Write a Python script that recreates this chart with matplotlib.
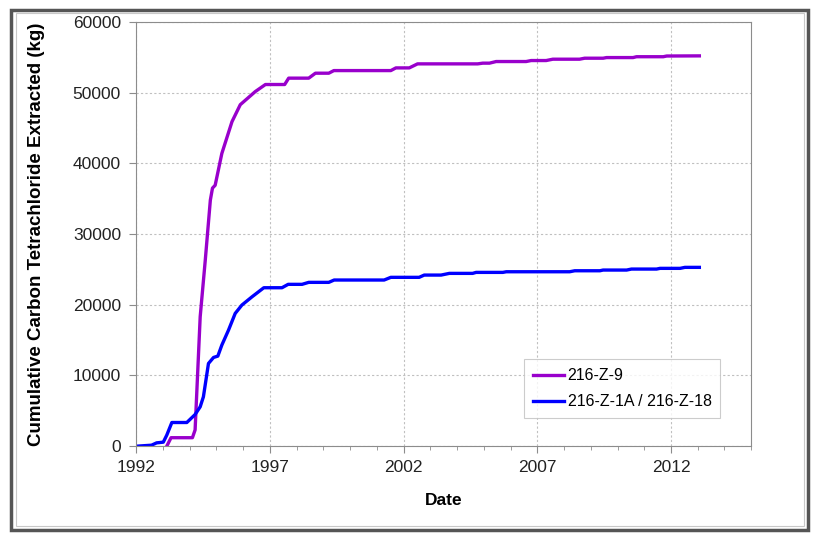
import matplotlib
matplotlib.use("Agg")
import matplotlib.pyplot as plt
from matplotlib.patches import Rectangle
from matplotlib.ticker import MultipleLocator

plt.rcParams['font.family'] = ['Liberation Sans', 'DejaVu Sans']

# 216-Z-9
z9_year = [1993.14, 1993.30, 1994.10, 1994.20, 1994.39, 1994.58, 1994.77, 1994.85, 1994.95,
           1995.20, 1995.58, 1995.89, 1996.45, 1996.83, 1997.55, 1997.70, 1998.45, 1998.70,
           1999.20, 1999.39, 2001.52, 2001.71, 2002.21, 2002.52, 2004.77, 2004.96, 2005.21,
           2005.46, 2006.58, 2006.77, 2007.33, 2007.58, 2008.58, 2008.77, 2009.46, 2009.59,
           2010.58, 2010.71, 2011.71, 2011.84, 2013.06]
z9_kg = [0, 1200, 1200, 2300, 18300, 26300, 34800, 36500, 36900,
         41400, 45900, 48300, 50150, 51150, 51150, 52050, 52050, 52750,
         52750, 53120, 53120, 53500, 53500, 54070, 54070, 54170, 54170,
         54400, 54400, 54540, 54540, 54730, 54730, 54870, 54870, 54960,
         54960, 55080, 55080, 55180, 55200]

# 216-Z-1A / 216-Z-18
z1a_year = [1992.01, 1992.57, 1992.76, 1993.01, 1993.14, 1993.33, 1993.89, 1994.20, 1994.39,
            1994.51, 1994.70, 1994.89, 1995.05, 1995.20, 1995.45, 1995.70, 1995.95, 1996.33,
            1996.77, 1997.45, 1997.68, 1998.20, 1998.45, 1999.20, 1999.40, 2001.27, 2001.52,
            2002.58, 2002.77, 2003.40, 2003.71, 2004.58, 2004.71, 2005.71, 2005.84, 2008.21,
            2008.40, 2009.34, 2009.46, 2010.34, 2010.52, 2011.46, 2011.59, 2012.34, 2012.52,
            2013.06]
z1a_kg = [0, 140, 470, 570, 1560, 3350, 3350, 4480, 5570,
          6980, 11700, 12550, 12740, 14300, 16420, 18780, 19960, 21130,
          22410, 22410, 22890, 22890, 23170, 23170, 23500, 23500, 23880,
          23880, 24200, 24200, 24440, 24440, 24580, 24580, 24670, 24670,
          24810, 24810, 24910, 24910, 25050, 25050, 25150, 25150, 25290,
          25290]

fig = plt.figure(figsize=(8.21, 5.35), dpi=100)
ax = fig.add_axes([0.166, 0.166, 0.749, 0.793])

# outer frame round the whole picture
fig.patches.append(Rectangle((0.014, 0.009), 0.970, 0.973, transform=fig.transFigure,
                             fill=False, edgecolor='#555555', linewidth=2.5))
fig.patches.append(Rectangle((0.019, 0.016), 0.960, 0.959, transform=fig.transFigure,
                             fill=False, edgecolor='#c8c8c8', linewidth=0.8))

ax.plot(z9_year, z9_kg, color='#9900cc', linewidth=2.4, label='216-Z-9')
ax.plot(z1a_year, z1a_kg, color='#0000ff', linewidth=2.4, label='216-Z-1A / 216-Z-18')

ax.set_xlim(1992, 2015)
ax.set_ylim(0, 60000)
ax.xaxis.set_minor_locator(MultipleLocator(1))
ax.yaxis.set_major_locator(MultipleLocator(10000))
ax.set_xticks([1992, 1997, 2002, 2007, 2012])

ax.grid(True, which='major', color='#c0c0c0', linestyle=(0, (2, 2)), linewidth=0.8)
for s in ax.spines.values():
    s.set_color('#8c8c8c')
ax.tick_params(which='both', direction='out', color='#8c8c8c', labelsize=12.5, labelcolor='#222222')
ax.tick_params(which='major', length=5)
ax.tick_params(which='minor', length=3)
ax.tick_params(axis='x', pad=5)
ax.tick_params(axis='y', pad=6)

ax.set_xlabel('Date', fontsize=12.5, fontweight='bold')
ax.set_ylabel('Cumulative Carbon Tetrachloride Extracted (kg)', fontsize=13.5, fontweight='bold')
ax.xaxis.set_label_coords(0.5, -0.11)
ax.yaxis.set_label_coords(-0.148, 0.5)

leg = ax.legend(loc='lower right', bbox_to_anchor=(0.95, 0.066), fontsize=11.5, fancybox=False,
                edgecolor='#c0c0c0', borderpad=0.55, labelspacing=0.7, handlelength=2.0,
                handletextpad=0.2, borderaxespad=0)
leg.get_frame().set_linewidth(0.8)

fig.savefig('out.png', dpi=100)
